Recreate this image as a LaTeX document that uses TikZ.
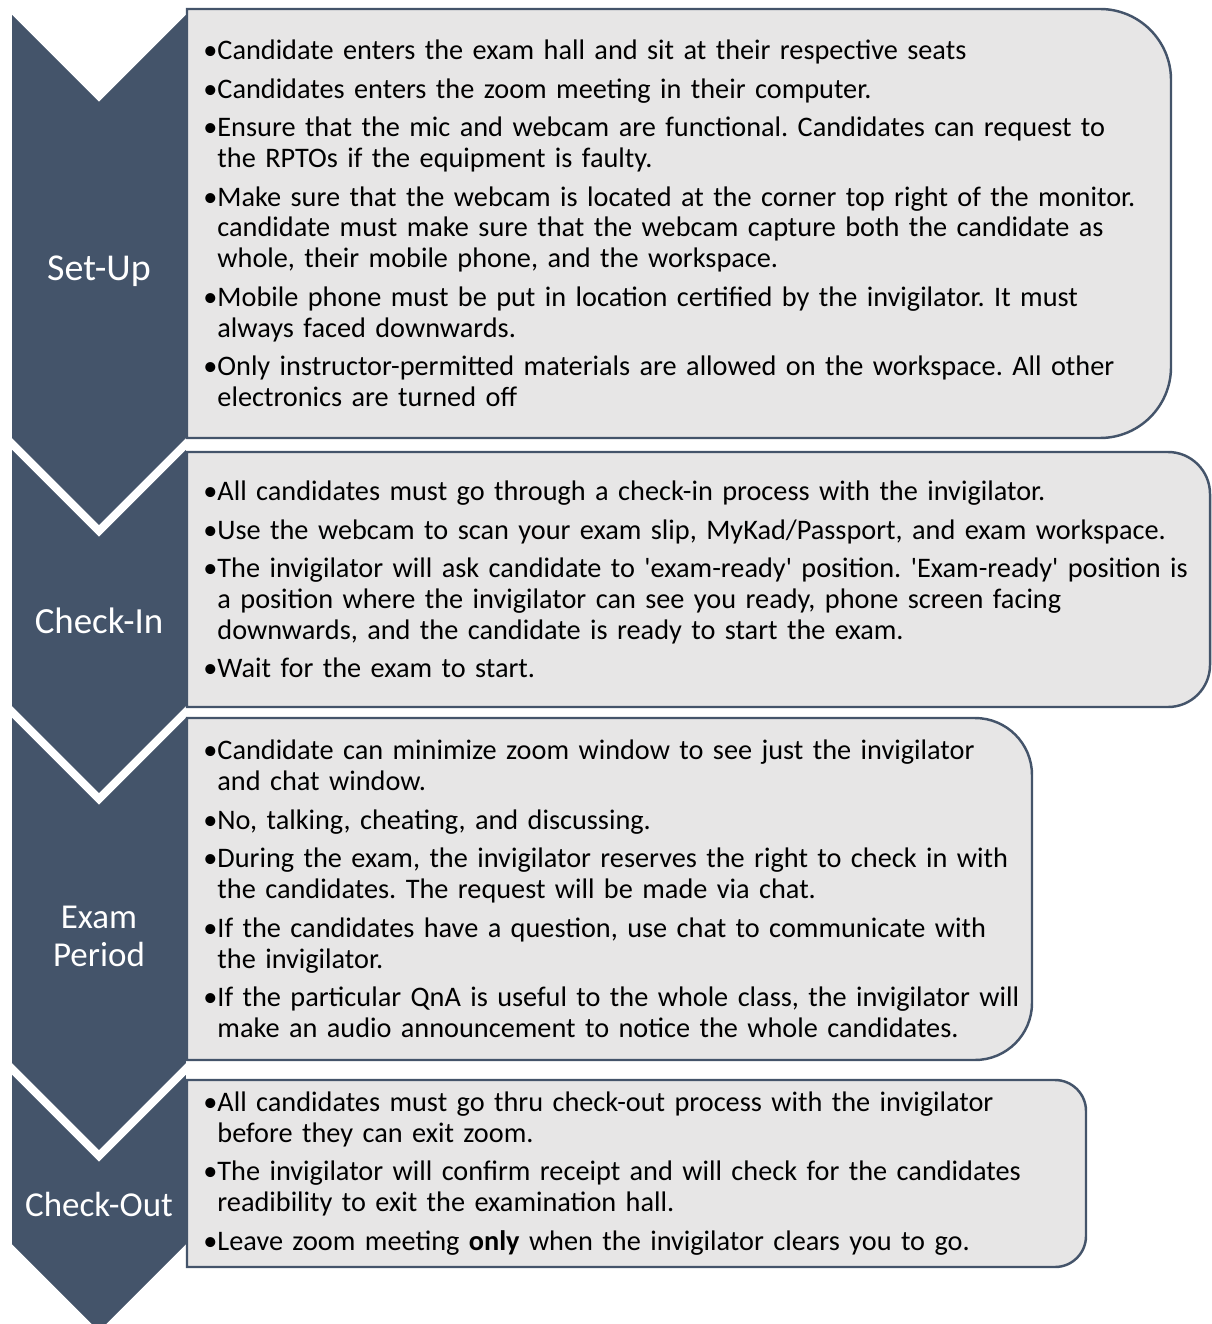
\documentclass[tikz,border=0pt]{standalone}
\usepackage{fontspec}
\setmainfont{Carlito}
\usepackage{tikz}

\definecolor{slate}{HTML}{44546A}
\definecolor{panel}{HTML}{E7E6E6}

\frenchspacing

% bullet with hanging indent
\newcommand{\bul}{\setbox0\hbox{\textbullet}\hangindent=\wd0 \hangafter=1 \noindent\textbullet}

\tikzset{
  chev/.style={fill=slate, draw=white, line width=4.5pt, line join=miter},
  panelbox/.style={fill=panel, draw=slate, line width=1.4pt},
  bultext/.style={anchor=west, inner sep=0pt, text width=20.5cm, align=left,
    font=\fontsize{16.1}{17.6}\selectfont\setlength{\parskip}{4.3pt}},
  steplabel/.style={text=white, align=center, font=\fontsize{19.9}{21.6}\selectfont}
}

\begin{document}
\begin{tikzpicture}[x=0.02cm, y=-0.02cm]

\useasboundingbox (0,0) rectangle (1212,1324);

% chevrons, the later one lies on the earlier one
\draw[chev] (8,5) -- (99,96) -- (190,5) -- (190,440) -- (99,531) -- (8,440) -- cycle;

\draw[chev] (8,440) -- (99,531) -- (190,440) -- (190,708) -- (99,799) -- (8,708) -- cycle;

\draw[chev] (8,708) -- (99,799) -- (190,708) -- (190,1065) -- (99,1156) -- (8,1065) -- cycle;

\draw[chev] (8,1065) -- (99,1156) -- (190,1065) -- (190,1246) -- (99,1337) -- (8,1246) -- cycle;

\node[steplabel, font=\fontsize{21.6}{23}\selectfont] (setup) at (99,271) {Set-Up};

\node[steplabel, font=\fontsize{21}{23}\selectfont] (checkin) at (99,621) {Check-In};

\node[steplabel] (exam) at (99,936) {Exam\\Period};

\node[steplabel] (checkout) at (99,1204) {Check-Out};

% panels
\draw[panelbox] (187,9) -- (1100,9) arc(-90:0:71) -- (1171,367) arc(0:90:71) -- (187,438) -- cycle;

\draw[panelbox] (187,452) -- (1168,452) arc(-90:0:42) -- (1210,665) arc(0:90:42) -- (187,707) -- cycle;

\draw[panelbox] (187,718) -- (975,718) arc(-90:0:57) -- (1032,1003) arc(0:90:57) -- (187,1060) -- cycle;

\draw[panelbox] (187,1080) -- (1055,1080) arc(-90:0:31) -- (1086,1236) arc(0:90:31) -- (187,1267) -- cycle;

\node[bultext] (setuptxt) at (203,223.5) {%
\bul Candidate enters the exam hall and sit at their respective seats\par
\bul Candidates enters the zoom meeting in their computer.\par
\bul Ensure that the mic and webcam are functional. Candidates can request to\newline the RPTOs if the equipment is faulty.\par
\bul Make sure that the webcam is located at the corner top right of the monitor.\newline candidate must make sure that the webcam capture both the candidate as\newline whole, their mobile phone, and the workspace.\par
\bul Mobile phone must be put in location certified by the invigilator. It must\newline always faced downwards.\par
\bul Only instructor-permitted materials are allowed on the workspace. All other\newline electronics are turned off\par};

\node[bultext] (checkintxt) at (203,579.5) {%
\bul All candidates must go through a check-in process with the invigilator.\par
\bul Use the webcam to scan your exam slip, MyKad/Passport, and exam workspace.\par
\bul The invigilator will ask candidate to \textquotesingle exam-ready\textquotesingle\ position. \textquotesingle Exam-ready\textquotesingle\ position is\newline a position where the invigilator can see you ready, phone screen facing\newline downwards, and the candidate is ready to start the exam.\par
\bul Wait for the exam to start.\par};

\node[bultext] (examtxt) at (203,889) {%
\bul Candidate can minimize zoom window to see just the invigilator\newline and chat window.\par
\bul No, talking, cheating, and discussing.\par
\bul During the exam, the invigilator reserves the right to check in with\newline the candidates. The request will be made via chat.\par
\bul If the candidates have a question, use chat to communicate with\newline the invigilator.\par
\bul If the particular QnA is useful to the whole class, the invigilator will\newline make an audio announcement to notice the whole candidates.\par};

\node[bultext] (checkouttxt) at (203,1173.5) {%
\bul All candidates must go thru check-out process with the invigilator\newline before they can exit zoom.\par
\bul The invigilator will confirm receipt and will check for the candidates\newline readibility to exit the examination hall.\par
\bul Leave zoom meeting \textbf{only} when the invigilator clears you to go.\par};

\end{tikzpicture}
\end{document}
